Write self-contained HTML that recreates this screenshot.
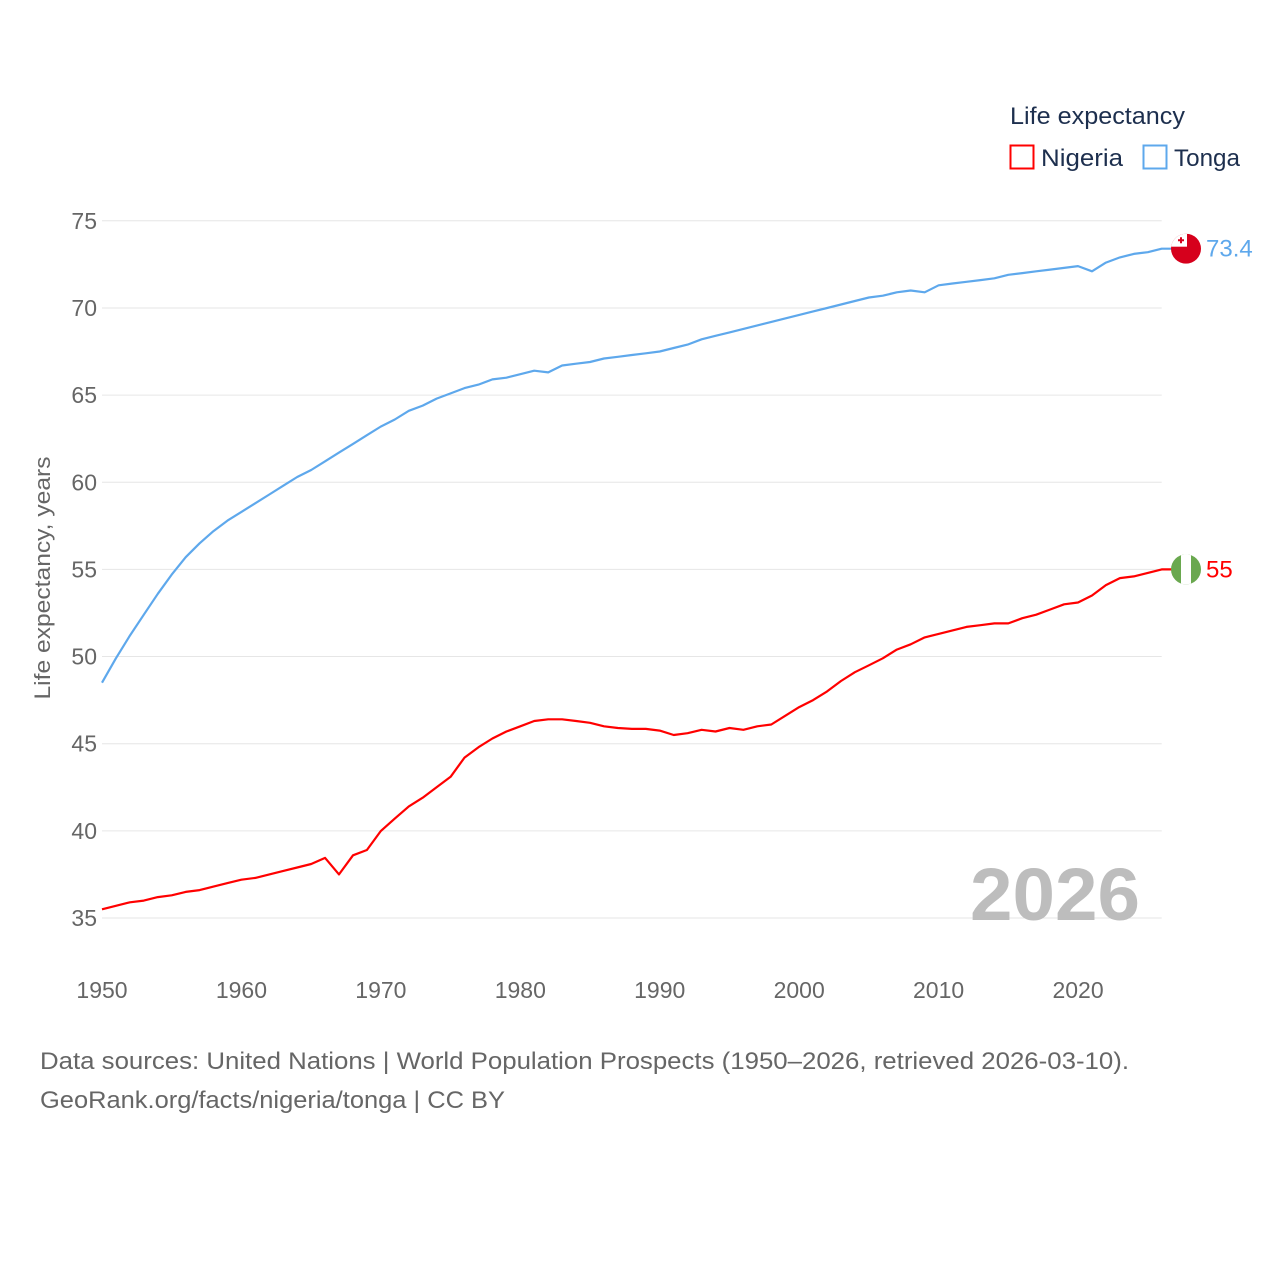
<!DOCTYPE html>
<html><head><meta charset="utf-8"><style>
body{margin:0;background:#fff;}
svg text{font-family:"Liberation Sans",sans-serif;}
</style></head><body>
<svg id="chart" width="1280" height="1280" xmlns="http://www.w3.org/2000/svg">
<g id="grid"></g>
<g id="yticks"></g>
<g id="xticks"></g>
<text transform="translate(50,578) rotate(-90)" text-anchor="middle" font-size="22" fill="#666" textLength="243" lengthAdjust="spacingAndGlyphs">Life expectancy, years</text>
<text x="1140" y="920" text-anchor="end" font-size="74" font-weight="bold" fill="#bdbdbd" textLength="170" lengthAdjust="spacingAndGlyphs">2026</text>
<g id="series"></g>
<g>
<text x="1010" y="124" font-size="24" fill="#1d2f4e" textLength="175" lengthAdjust="spacingAndGlyphs">Life expectancy</text>
<rect x="1010.5" y="145.5" width="23" height="23" fill="none" stroke="#ff0000" stroke-width="2"/>
<text x="1041" y="166" font-size="24" fill="#1d2f4e" textLength="82" lengthAdjust="spacingAndGlyphs">Nigeria</text>
<rect x="1143.5" y="145.5" width="23" height="23" fill="none" stroke="#5ea8ec" stroke-width="2"/>
<text x="1174" y="166" font-size="24" fill="#1d2f4e" textLength="66" lengthAdjust="spacingAndGlyphs">Tonga</text>
</g>
<text x="40" y="1069" font-size="24" fill="#666" textLength="1089" lengthAdjust="spacingAndGlyphs">Data sources: United Nations | World Population Prospects (1950–2026, retrieved 2026-03-10).</text>
<text x="40" y="1108" font-size="24" fill="#666" textLength="465" lengthAdjust="spacingAndGlyphs">GeoRank.org/facts/nigeria/tonga | CC BY</text>
</svg>
<script>
const years=[];for(let y=1950;y<=2026;y++)years.push(y);
const nigeria=[35.5,35.7,35.9,36.0,36.2,36.3,36.5,36.6,36.8,37.0,37.2,37.3,37.5,37.7,37.9,38.1,38.45,37.5,38.6,38.9,40.0,40.7,41.4,41.9,42.5,43.1,44.2,44.8,45.3,45.7,46.0,46.3,46.4,46.4,46.3,46.2,46.0,45.9,45.85,45.85,45.75,45.5,45.6,45.8,45.7,45.9,45.8,46.0,46.1,46.6,47.1,47.5,48.0,48.6,49.1,49.5,49.9,50.4,50.7,51.1,51.3,51.5,51.7,51.8,51.9,51.9,52.2,52.4,52.7,53.0,53.1,53.5,54.1,54.5,54.6,54.8,55.0];
const tonga=[48.5,49.9,51.2,52.4,53.6,54.7,55.7,56.5,57.2,57.8,58.3,58.8,59.3,59.8,60.3,60.7,61.2,61.7,62.2,62.7,63.2,63.6,64.1,64.4,64.8,65.1,65.4,65.6,65.9,66.0,66.2,66.4,66.3,66.7,66.8,66.9,67.1,67.2,67.3,67.4,67.5,67.7,67.9,68.2,68.4,68.6,68.8,69.0,69.2,69.4,69.6,69.8,70.0,70.2,70.4,70.6,70.7,70.9,71.0,70.9,71.3,71.4,71.5,71.6,71.7,71.9,72.0,72.1,72.2,72.3,72.4,72.1,72.6,72.9,73.1,73.2,73.4];
const yTicks=[35,40,45,50,55,60,65,70,75];
const xTicks=[1950,1960,1970,1980,1990,2000,2010,2020];
const X0=102,X1=1161.7,Y35=918,PU=17.43;
const xs=y=>X0+(y-1950)*(X1-X0)/76;
const ys=v=>Y35-(v-35)*PU;
const NS='http://www.w3.org/2000/svg';
function mk(tag,attrs,parent){const e=document.createElementNS(NS,tag);for(const k in attrs)e.setAttribute(k,attrs[k]);parent.appendChild(e);return e;}
const grid=document.getElementById('grid'),yt=document.getElementById('yticks'),xt=document.getElementById('xticks'),ser=document.getElementById('series');
yTicks.forEach(v=>{
 const l=mk('line',{x1:X0,x2:X1,y1:ys(v),y2:ys(v),stroke:'#e6e6e6','stroke-width':1},grid);
 
 
 const t=mk('text',{x:97,y:ys(v)+8,'text-anchor':'end','font-size':23,fill:'#666'},yt);
 t.textContent=v;
 
 
});
xTicks.forEach(v=>{
 const t=mk('text',{x:xs(v),y:998,'text-anchor':'middle','font-size':23,fill:'#666'},xt);
 t.textContent=v;
 
 
});
function series(name,vals,color,labelColor){
 const d=vals.map((v,i)=>(i?'L':'M')+xs(years[i]).toFixed(1)+','+ys(v).toFixed(1)).join('')+'H1176';
 const p=mk('path',{d:d,fill:'none',stroke:color,'stroke-width':2.2,'stroke-linejoin':'round'},ser);
 
 
 const last=vals[vals.length-1];
 const t=mk('text',{x:1206,y:ys(last)+8,'font-size':24,fill:labelColor},ser);
 t.textContent=String(last);
 
 
 return ys(last);
}
const ty=series('tonga',tonga,'#5ea8ec','#5ea8ec');
const ny=series('nigeria',nigeria,'#ff0000','#ff0000');
const g1=mk('g',{},ser);


mk('defs',{},g1).innerHTML='<clipPath id="c1"><circle cx="1186" cy="'+ty+'" r="15"/></clipPath><clipPath id="c2"><circle cx="1186" cy="'+ny+'" r="15"/></clipPath>';
mk('rect',{x:1171,y:ty-15,width:30,height:30,fill:'#d6001c','clip-path':'url(#c1)'},g1);
mk('rect',{x:1171,y:ty-15,width:16,height:13,fill:'#fff','clip-path':'url(#c1)'},g1);
mk('path',{d:'M1178,'+(ty-8.5)+'h6M1181,'+(ty-11.5)+'v6',stroke:'#d6001c','stroke-width':2},g1);
const g2=mk('g',{},ser);


mk('rect',{x:1171,y:ny-15,width:30,height:30,fill:'#6aa84f','clip-path':'url(#c2)'},g2);
mk('rect',{x:1181,y:ny-15,width:10,height:30,fill:'#fff','clip-path':'url(#c2)'},g2);
</script>
</body></html>
